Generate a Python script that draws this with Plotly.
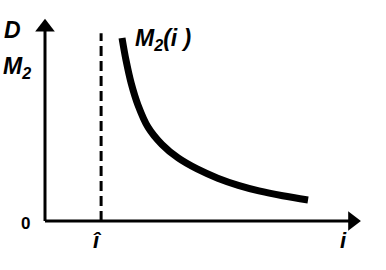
import plotly.graph_objects as go

# Data (in axis units)
curve_i = [2.43, 2.56, 2.72, 2.93, 3.25, 3.69, 4.20, 4.80, 5.45, 6.10, 6.75, 7.50, 8.30]
curve_D = [8.97, 7.85, 6.75, 5.70, 4.60, 3.75, 3.09, 2.55, 2.10, 1.75, 1.48, 1.24, 1.03]
i_hat = 1.77
dash_top = 9.2
x_end = 10.0
y_end = 10.0

FONT = "Liberation Sans"
XMIN, XMAX = -1.42, 10.76
YMIN, YMAX = -2.40, 10.83


def tfont(size, italic=True):
    return dict(family=FONT, size=size, color="black", weight="bold",
                style="italic" if italic else "normal")


fig = go.Figure()

# x axis line + arrow
fig.add_trace(go.Scatter(x=[0, x_end - 0.3], y=[0, 0], mode="lines",
                         line=dict(color="black", width=3), hoverinfo="skip"))
fig.add_trace(go.Scatter(x=[x_end - 0.3], y=[0], mode="markers",
                         marker=dict(symbol="triangle-right", size=17, color="black"),
                         hoverinfo="skip"))
# y axis line + arrow
fig.add_trace(go.Scatter(x=[0, 0], y=[0, y_end - 0.5], mode="lines",
                         line=dict(color="black", width=3), hoverinfo="skip"))
fig.add_trace(go.Scatter(x=[0], y=[y_end - 0.5], mode="markers",
                         marker=dict(symbol="triangle-up", size=17, color="black"),
                         hoverinfo="skip"))
# dashed line at i-hat
fig.add_trace(go.Scatter(x=[i_hat, i_hat], y=[0, dash_top], mode="lines",
                         line=dict(color="black", width=3, dash="10px,5px"), hoverinfo="skip"))
# curve M2(i)
fig.add_trace(go.Scatter(x=curve_i, y=curve_D, mode="lines", line_shape="spline",
                         line=dict(color="black", width=7), hoverinfo="skip"))

fig.add_annotation(x=-1.02, y=9.35, text="D", showarrow=False, font=tfont(23))
fig.add_annotation(x=-0.88, y=7.5, text="M<sub>2</sub>", showarrow=False, font=tfont(23))
fig.add_annotation(x=-0.6, y=-0.1, text="0", showarrow=False, font=tfont(17, italic=False))
fig.add_annotation(x=i_hat - 0.1, y=-0.95, text="î", showarrow=False, font=tfont(22))
fig.add_annotation(x=9.43, y=-0.95, text="i", showarrow=False, font=tfont(22))
fig.add_annotation(x=3.72, y=8.9, text="M<sub>2</sub>(i )", showarrow=False, font=tfont(23))

fig.update_layout(
    width=386, height=270, margin=dict(l=0, r=0, t=0, b=0),
    paper_bgcolor="white", plot_bgcolor="white", showlegend=False,
    xaxis=dict(range=[XMIN, XMAX], visible=False),
    yaxis=dict(range=[YMIN, YMAX], visible=False),
)
fig.write_html("out.html")
